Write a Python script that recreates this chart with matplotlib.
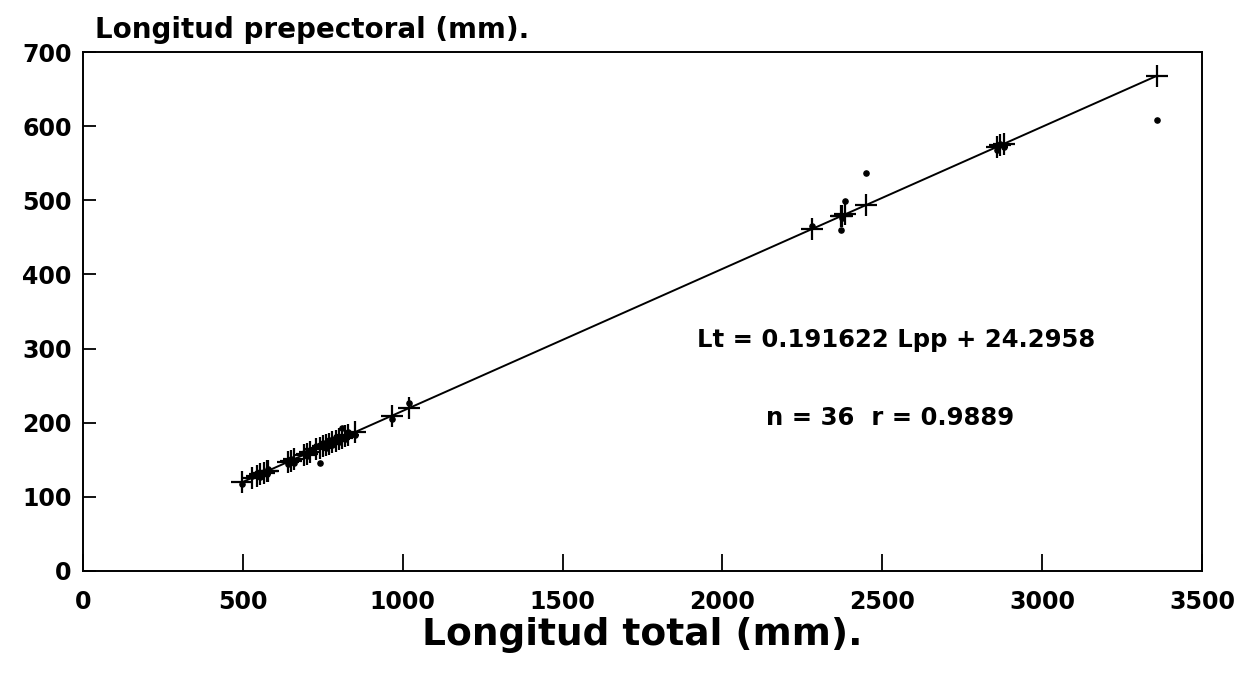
import numpy as np
import matplotlib
matplotlib.use("Agg")
import matplotlib.pyplot as plt

# Data
longitud_total = [497, 530, 545, 555, 565, 575, 580, 640, 650, 660, 690, 700, 710,
                  730, 740, 750, 760, 770, 780, 790, 800, 810, 820, 830, 850,
                  966, 1019, 2281, 2370, 2375, 2385, 2450, 2860, 2870, 2880, 3360]
longitud_prepectoral = [118, 128, 132, 127, 134, 131, 137, 144, 151, 146, 159, 155, 163,
                        168, 146, 172, 166, 177, 170, 181, 174, 193, 178, 188, 184,
                        205, 227, 465, 460, 476, 499, 537, 568, 576, 572, 608]
slope = 0.191622
intercept = 24.2958
xticks = [0, 500, 1000, 1500, 2000, 2500, 3000, 3500]
yticks = [0, 100, 200, 300, 400, 500, 600, 700]

x = np.array(longitud_total, dtype=float)
y = np.array(longitud_prepectoral, dtype=float)
fitted = slope * x + intercept

fig = plt.figure(figsize=(12.46, 6.73), dpi=100)
ax = fig.add_axes([0.0666, 0.1516, 0.898, 0.771])

line_x = np.array([x.min(), x.max()])
ax.plot(line_x, slope * line_x + intercept, color="black", lw=1.4, zorder=2)
ax.scatter(x, y, s=14, color="black", zorder=3)
ax.plot(x, fitted, linestyle="none", marker="+", markersize=16,
        markeredgewidth=1.6, color="black", zorder=4)

ax.set_xlim(0, 3500)
ax.set_ylim(0, 700)
ax.set_xticks(xticks)
ax.set_yticks(yticks)
ax.tick_params(axis="x", direction="in", length=12, width=1.3, pad=14)
ax.tick_params(axis="y", direction="in", length=9, width=1.3, pad=8)
for lbl in ax.get_xticklabels() + ax.get_yticklabels():
    lbl.set_fontsize(17)
    lbl.set_fontweight("bold")
    lbl.set_family("DejaVu Sans")

for side, sp in ax.spines.items():
    sp.set_linewidth(1.4)

ax.set_xlabel("Longitud total (mm).", fontsize=27, fontweight="bold", labelpad=2)
fig.text(0.076, 0.935, "Longitud prepectoral (mm).", fontsize=20,
         fontweight="bold", ha="left", va="bottom")

ax.text(2544, 312, "Lt = 0.191622 Lpp + 24.2958", fontsize=17.5, fontweight="bold",
        ha="center", va="center")
ax.text(2525, 206, "n = 36  r = 0.9889", fontsize=17.5, fontweight="bold",
        ha="center", va="center")

fig.savefig("out.png", dpi=100, facecolor="white")
